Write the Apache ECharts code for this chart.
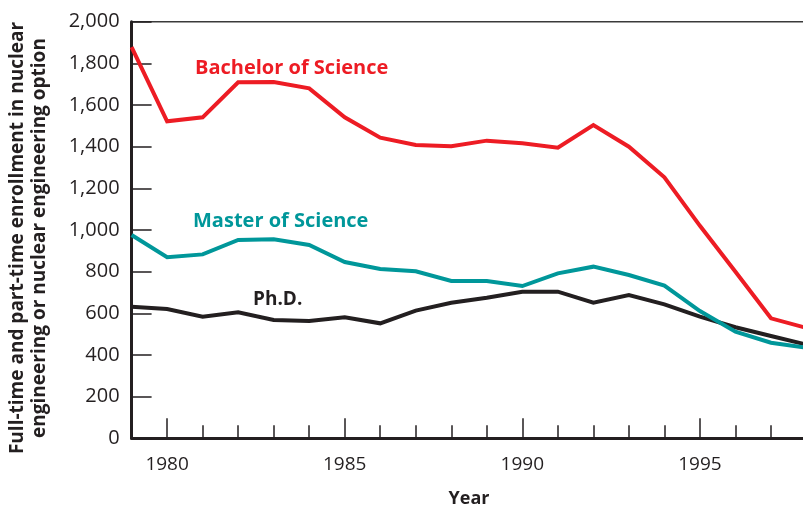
<!DOCTYPE html>
<html>
<head>
<meta charset="utf-8">
<script src="https://cdn.jsdelivr.net/npm/echarts@6/dist/echarts.min.js"></script>
<style>
  html, body { margin: 0; padding: 0; background: #fff; }
  #chart { width: 803px; height: 509px; }
</style>
</head>
<body>
<div id="chart"></div>
<script>
// Enrollment in nuclear engineering programs, 1979-1998
const years = [1979, 1980, 1981, 1982, 1983, 1984, 1985, 1986, 1987, 1988,
               1989, 1990, 1991, 1992, 1993, 1994, 1995, 1996, 1997, 1998];
const bachelor = [1878, 1522, 1541, 1709, 1710, 1680, 1541, 1443, 1408, 1402,
                  1429, 1416, 1395, 1504, 1400, 1253, 1020, 800, 576, 530];
const master = [976, 869, 883, 952, 955, 928, 846, 813, 802, 755,
                755, 731, 792, 824, 784, 733, 611, 512, 459, 435];
const phd = [632, 621, 584, 605, 568, 563, 581, 552, 613, 651,
             675, 704, 704, 651, 688, 643, 584, 533, 491, 450];
const majorYears = [1980, 1985, 1990, 1995];
const yTitle = ['Full-time and part-time enrollment in nuclear',
                'engineering or nuclear engineering option'];

const RED = '#ED1C24', TEAL = '#00979A', INK = '#231F20';
const FONT = 'Open Sans';

const pair = arr => years.map((y, i) => [y, arr[i]]);
const lineSeries = (name, arr, color) => ({
  name, type: 'line', data: pair(arr), showSymbol: false, symbol: 'none',
  lineStyle: { color, width: 4, join: 'miter' }, z: 5
});

const chart = echarts.init(document.getElementById('chart'), null, { renderer: 'canvas' });
chart.setOption({
  animation: false,
  grid: { left: 131.6, top: 21.7, bottom: 70.7, right: -3.5,
          outerBoundsMode: 'none', containLabel: false,
          show: true, borderColor: '#3a3a3a', borderWidth: 1.5 },
  xAxis: [{
    type: 'value', min: 1979, max: 1998, interval: 1,
    axisLine: { lineStyle: { color: INK, width: 3 } },
    axisTick: { inside: true, length: 13, lineStyle: { color: INK, width: 1.5 } },
    axisLabel: { color: INK, fontFamily: FONT, fontSize: 19, margin: 17,
                 formatter: v => (v % 5 === 0 ? String(v) : '') },
    splitLine: { show: false },
    name: 'Year', nameLocation: 'middle', nameGap: 52,
    nameTextStyle: { color: INK, fontFamily: FONT, fontSize: 18, fontWeight: 'bold' }
  }, {
    type: 'value', min: 1979, max: 1998, position: 'bottom',
    axisLine: { show: false },
    axisTick: { inside: true, length: 20, customValues: majorYears,
                lineStyle: { color: INK, width: 1.5 } },
    axisLabel: { show: false },
    splitLine: { show: false }
  }],
  yAxis: {
    type: 'value', min: 0, max: 2000, interval: 200,
    axisLine: { show: true, lineStyle: { color: INK, width: 3 } },
    axisTick: { show: true, inside: true, length: 20, lineStyle: { color: INK, width: 1.5 } },
    axisLabel: { color: INK, fontFamily: FONT, fontSize: 20, margin: 12,
                 formatter: v => v.toLocaleString('en-US') },
    splitLine: { show: false }
  },
  series: [
    lineSeries('Ph.D.', phd, INK),
    lineSeries('Master of Science', master, TEAL),
    lineSeries('Bachelor of Science', bachelor, RED)
  ],
  graphic: [
    { type: 'text', x: 29, y: 238, rotation: Math.PI / 2,
      style: { text: yTitle.join('\n'), fill: INK, font: `bold 19px "${FONT}"`,
               align: 'center', verticalAlign: 'middle', lineHeight: 22 } },
    { type: 'text', x: 195, y: 68,
      style: { text: 'Bachelor of Science', fill: RED, font: `bold 20px "${FONT}"`,
               align: 'left', verticalAlign: 'middle' } },
    { type: 'text', x: 193, y: 221,
      style: { text: 'Master of Science', fill: TEAL, font: `bold 20px "${FONT}"`,
               align: 'left', verticalAlign: 'middle' } },
    { type: 'text', x: 253, y: 300,
      style: { text: 'Ph.D.', fill: INK, font: `bold 19px "${FONT}"`,
               align: 'left', verticalAlign: 'middle' } }
  ]
});
</script>
</body>
</html>
